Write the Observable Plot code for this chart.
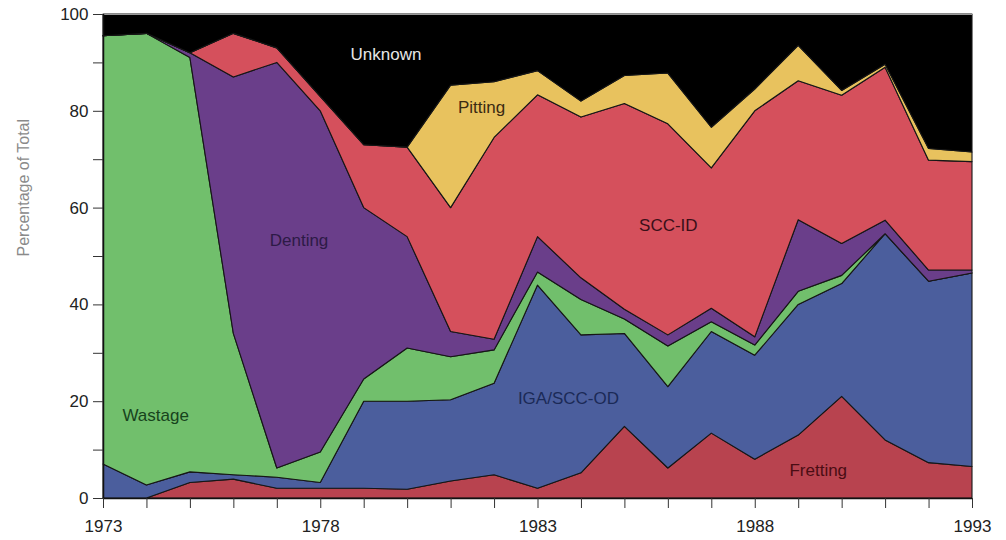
<!DOCTYPE html>
<html>
<head>
<meta charset="utf-8">
<script src="https://cdn.jsdelivr.net/npm/d3@7"></script>
<script src="https://cdn.jsdelivr.net/npm/@observablehq/plot@0.6"></script>
<style>
  html, body { margin: 0; padding: 0; background: #fff; }
  #chart { width: 1006px; height: 540px; }
</style>
</head>
<body>
<div id="chart"></div>
<script>
// ---- Data (percent of total, per year) ----
const years = [1973,1974,1975,1976,1977,1978,1979,1980,1981,1982,1983,1984,1985,1986,1987,1988,1989,1990,1991,1992,1993];
const seriesNames = ["Fretting","IGA/SCC-OD","Wastage","Denting","SCC-ID","Pitting","Unknown"];
const fretting = [0,0,3.2,3.9,2,2,2,1.8,3.5,4.8,2,5.2,14.8,6.2,13.4,8,13,21,12,7.3,6.5];
const igaSccOd = [7,2.7,2.2,0.9,2.3,1.2,18,18.2,16.8,18.9,42,28.5,19.2,16.8,21,21.5,27,23.3,42.6,37.5,40];
const wastage  = [88.5,93.3,85.6,29.2,1.9,6.3,4.6,11,8.9,6.9,2.7,7.3,3,8.4,2,2.1,2.7,1.7,0,0,0];
const denting  = [0,0,1,53,83.8,70.5,35.4,23,5.2,2.2,7.3,4.5,2,2.3,2.8,1.7,14.8,6.6,2.8,2.3,0.6];
const sccId    = [0,0,0,9,3,3,13,18.5,25.6,41.7,29.3,33.2,42.5,43.6,29,46.7,28.7,30.6,31.6,22.7,22.4];
const pitting  = [0,0,0,0,0,0,0,0,25.3,11.5,5,3.3,5.8,10.5,8.4,4.5,7.3,1,0.6,2.4,2];
const unknown  = [4.5,4,8,4,7,17,27,27.5,14.7,14,11.7,18,12.7,12.2,23.4,15.5,6.5,15.8,10.4,27.8,28.5];
const yTicks = [0,10,20,30,40,50,60,70,80,90,100];
const yLabels = [0,20,40,60,80,100];
const xLabels = [1973,1978,1983,1988,1993];

// ---- Styling ----
const colors = ["#b8434f","#4b5e9d","#71bf6c","#6a3e8a","#d5505c","#e8c25e","#000000"];
const labelColors = ["#4a0d14","#1b2a57","#17431c","#2d1a46","#3a0f18","#3b2a12","#e6e6e6"];
// label anchors in data units (year, percent)
const labelYear = [1989.45, 1983.7, 1974.2, 1977.5, 1986.0, 1981.7, 1979.5];
const labelPct  = [5.8, 20.7, 17.2, 53.3, 56.4, 80.8, 91.8];

const seriesValues = [fretting, igaSccOd, wastage, denting, sccId, pitting, unknown];
const data = [];
seriesNames.forEach((s, i) => {
  years.forEach((y, j) => data.push({series: s, year: y, value: seriesValues[i][j]}));
});
const labels = seriesNames.map((s, i) => ({name: s, year: labelYear[i], pct: labelPct[i], color: labelColors[i]}));

const chart = Plot.plot({
  width: 1006,
  height: 540,
  marginLeft: 103,
  marginRight: 34,
  marginTop: 14,
  marginBottom: 42,
  style: {fontFamily: "'Liberation Sans', Arial, Helvetica, sans-serif", fontSize: "17px", color: "#222", background: "#fff"},
  x: {domain: [1973, 1993], label: null},
  y: {domain: [0, 100], label: null},
  color: {domain: seriesNames, range: colors},
  marks: [
    Plot.areaY(data, {x: "year", y: "value", fill: "series", z: "series", order: seriesNames,
      stroke: "#161616", strokeWidth: 1.1, strokeLinejoin: "round"}),
    Plot.ruleY([100], {stroke: "#999", strokeWidth: 1}),
    Plot.ruleX([1973], {stroke: "#111", strokeWidth: 1.5}),
    Plot.ruleY([0], {stroke: "#111", strokeWidth: 1.5}),
    Plot.axisY({ticks: yTicks, tickSize: 10, tickPadding: 5, stroke: "#333",
      tickFormat: d => yLabels.includes(d) ? String(d) : "", fontSize: 17, fill: "#222"}),
    Plot.axisX({ticks: years, tickSize: 10, tickPadding: 11, stroke: "#333",
      tickFormat: d => xLabels.includes(d) ? String(d) : "", fontSize: 17, fill: "#222"}),
    Plot.text(labels, {x: "year", y: "pct", text: "name", fill: "color", fontSize: 17}),
    Plot.text(["Percentage of Total"], {frameAnchor: "left", dx: -80, rotate: -90, fill: "#8a8a8a", fontSize: 16})
  ]
});
document.getElementById("chart").appendChild(chart);
</script>
</body>
</html>
